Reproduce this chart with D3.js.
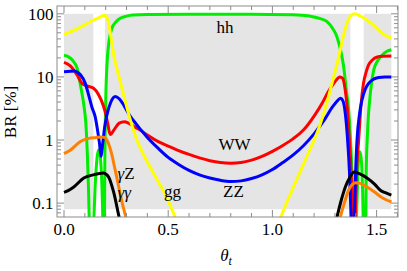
<!DOCTYPE html>
<html><head><meta charset="utf-8">
<script src="https://cdn.jsdelivr.net/npm/d3@7"></script>
<style>
body{margin:0;background:#fff}
svg text{font-family:"Liberation Serif","Times New Roman",serif;fill:#000}
</style>
</head><body>
<svg id="c" width="407" height="271"></svg>
<script>
// ---- data (theta_t, BR in %) ----
const ggData = [[0,47],[0.05,55],[0.1,67],[0.14,79],[0.17,88],[0.19,94],[0.2,93],[0.21,80],[0.22,55],[0.23,34],[0.24,21],[0.255,13],[0.27,8.4],[0.29,4.6],[0.31,2.6],[0.33,1.55],[0.35,1.0],[0.38,0.6],[0.41,0.39],[0.445,0.24],[0.476,0.16],[0.505,0.1],[0.533,0.06],[0.56,0.037],[0.6,0.02],[0.8,0.005],[1.0,0.03],[1.04,0.06],[1.08,0.125],[1.12,0.25],[1.16,0.5],[1.2,1.0],[1.23,1.8],[1.26,3.8],[1.294,10],[1.32,22],[1.342,47],[1.36,75],[1.38,95],[1.395,100],[1.42,93],[1.454,80],[1.49,64],[1.518,52],[1.545,45],[1.5708,41]];
const hhData = [[0,22],[0.02,21],[0.04,18.5],[0.063,13.7],[0.079,7.4],[0.095,3.6],[0.105,1.8],[0.112,0.6],[0.118,0.15],[0.124,0.02],[0.13,0.003],[0.14,0.03],[0.15,0.2],[0.158,0.5],[0.166,0.7],[0.174,0.55],[0.182,0.18],[0.188,0.03],[0.192,0.003],[0.196,0.5],[0.2,4],[0.206,15],[0.215,35],[0.23,59],[0.25,75],[0.27,85],[0.3,92],[0.33,96],[0.4,97.5],[0.6,98],[0.9,98],[1.1,97],[1.18,92],[1.23,84],[1.262,75],[1.29,58],[1.31,43],[1.33,24],[1.342,14.5],[1.355,6],[1.366,3],[1.375,1],[1.385,0.15],[1.392,0.01],[1.396,0.003],[1.403,0.05],[1.41,0.3],[1.418,0.65],[1.425,0.55],[1.433,0.15],[1.44,0.01],[1.445,0.002],[1.45,0.3],[1.456,1.2],[1.47,5.5],[1.486,12.8],[1.505,18],[1.526,22],[1.55,25.5],[1.5708,27]];
const wwData = [[0,17],[0.03,15],[0.063,10.7],[0.086,7.9],[0.11,7.2],[0.142,6.6],[0.166,5.2],[0.19,3.4],[0.2,2.6],[0.21,1.8],[0.222,1.22],[0.24,1.45],[0.265,1.85],[0.29,1.95],[0.31,1.85],[0.34,1.6],[0.365,1.44],[0.4,1.2],[0.45,0.95],[0.5,0.8],[0.55,0.68],[0.6,0.59],[0.65,0.52],[0.7,0.47],[0.75,0.44],[0.8,0.43],[0.85,0.44],[0.9,0.48],[0.95,0.55],[1.0,0.66],[1.05,0.82],[1.1,1.05],[1.15,1.45],[1.204,2.5],[1.24,3.9],[1.268,5.8],[1.3,8.4],[1.324,10],[1.337,9.5],[1.35,6],[1.36,3],[1.368,1.2],[1.378,0.3],[1.386,0.03],[1.391,0.002],[1.396,0.03],[1.404,0.3],[1.414,1.0],[1.425,3.5],[1.437,7.9],[1.45,12],[1.461,15.4],[1.48,18.5],[1.5,20.5],[1.53,21.2],[1.5708,21.4]];
const zzData = [[0,12.1],[0.03,12.3],[0.05,12.4],[0.065,11.8],[0.08,10.7],[0.102,7.9],[0.118,5.2],[0.134,3.3],[0.15,2.3],[0.16,1.5],[0.17,0.9],[0.178,0.55],[0.186,0.9],[0.195,1.6],[0.206,2.5],[0.225,4.0],[0.246,4.9],[0.265,4.5],[0.286,3.6],[0.31,2.6],[0.335,2.0],[0.365,1.5],[0.4,1.1],[0.45,0.75],[0.5,0.53],[0.55,0.41],[0.6,0.33],[0.65,0.28],[0.7,0.25],[0.75,0.23],[0.8,0.22],[0.85,0.225],[0.9,0.245],[0.95,0.28],[1.0,0.34],[1.05,0.44],[1.1,0.58],[1.15,0.82],[1.2,1.25],[1.25,2.1],[1.29,3.4],[1.315,4.3],[1.327,4.6],[1.338,4.2],[1.35,2.6],[1.36,1.1],[1.37,0.3],[1.378,0.05],[1.385,0.004],[1.392,0.05],[1.399,0.3],[1.406,1.0],[1.418,2.6],[1.43,4.3],[1.445,6.3],[1.462,7.9],[1.485,9.2],[1.51,9.8],[1.54,10],[1.5708,10]];
const gzData = [[0,0.61],[0.03,0.69],[0.077,0.94],[0.12,1.06],[0.15,1.09],[0.18,1.12],[0.195,1.1],[0.206,1.0],[0.218,0.8],[0.23,0.58],[0.242,0.38],[0.254,0.25],[0.266,0.16],[0.278,0.105],[0.294,0.065],[0.31,0.04],[0.33,0.02],[0.8,0.001],[1.28,0.015],[1.31,0.035],[1.326,0.06],[1.345,0.1],[1.366,0.16],[1.382,0.195],[1.398,0.21],[1.42,0.205],[1.454,0.18],[1.49,0.15],[1.518,0.127],[1.545,0.113],[1.5708,0.105]];
const ggamData = [[0,0.148],[0.02,0.158],[0.047,0.18],[0.095,0.25],[0.14,0.28],[0.19,0.3],[0.2,0.29],[0.214,0.26],[0.238,0.15],[0.262,0.065],[0.28,0.035],[0.3,0.015],[0.8,0.001],[1.26,0.01],[1.29,0.03],[1.31,0.06],[1.33,0.11],[1.35,0.18],[1.37,0.25],[1.393,0.31],[1.42,0.29],[1.454,0.25],[1.49,0.2],[1.518,0.16],[1.545,0.145],[1.5708,0.134]];

const xMajor = [0, 0.5, 1.0, 1.5];
const xMajorLabels = ["0.0","0.5","1.0","1.5"];
const yMajor = [0.1, 1, 10, 100];
const yMajorLabels = ["0.1","1","10","100"];
const bandRanges = [[0.141,0.197],[1.374,1.438]];
const shadeTheta = [0, Math.PI/2];
const shadeBR = [0.08, 100];

const series = [
  {name:"hh", data:hhData, color:"#00ee00"},
  {name:"WW", data:wwData, color:"#ff0000"},
  {name:"ZZ", data:zzData, color:"#0000ff"},
  {name:"gg", data:ggData, color:"#ffff00"},
  {name:"γγ", data:ggamData, color:"#000000"},
  {name:"γZ", data:gzData, color:"#ff8000"}
];

const FONT = "'Liberation Serif','Times New Roman',serif";
const svg = d3.select("#c");
const L=57, R=398, T=6, B=217;
const x = d3.scaleLinear().domain([-0.0336, 1.6027]).range([L, R]);
const y = d3.scaleLog().domain([0.0602, 133]).range([B, T]);

svg.append("defs").append("clipPath").attr("id","clip")
  .append("rect").attr("x",L).attr("y",T).attr("width",R-L).attr("height",B-T);

svg.append("rect").attr("x",x(shadeTheta[0])).attr("y",y(shadeBR[1]))
  .attr("width",x(shadeTheta[1])-x(shadeTheta[0])).attr("height",y(shadeBR[0])-y(shadeBR[1]))
  .attr("fill","#e5e5e5");
svg.selectAll("rect.band").data(bandRanges).join("rect").attr("class","band")
  .attr("x",d=>x(d[0])).attr("width",d=>x(d[1])-x(d[0]))
  .attr("y",y(shadeBR[1])).attr("height",y(shadeBR[0])-y(shadeBR[1]))
  .attr("fill","#fff");

const line = d3.line().x(d=>x(d[0])).y(d=>y(Math.max(d[1],1e-4))).curve(d3.curveMonotoneX);
const g = svg.append("g").attr("clip-path","url(#clip)");
g.selectAll("path").data(series).join("path")
  .attr("d",d=>line(d.data)).attr("fill","none").attr("stroke",d=>d.color)
  .attr("stroke-width",3).attr("stroke-linejoin","round");

const frameColor="#8c8c8c";
svg.append("rect").attr("x",L).attr("y",T).attr("width",R-L).attr("height",B-T)
  .attr("fill","none").attr("stroke",frameColor).attr("stroke-width",1);

const fg = svg.append("g").attr("stroke",frameColor).attr("stroke-width",1);
const xMinor = d3.range(0,17).map(i=>i/10).filter(v=>!xMajor.some(m=>Math.abs(m-v)<1e-9));
xMajor.forEach(v=>{
  fg.append("line").attr("x1",x(v)).attr("x2",x(v)).attr("y1",B).attr("y2",B-7);
  fg.append("line").attr("x1",x(v)).attr("x2",x(v)).attr("y1",T).attr("y2",T+7);
});
xMinor.forEach(v=>{
  fg.append("line").attr("x1",x(v)).attr("x2",x(v)).attr("y1",B).attr("y2",B-4);
  fg.append("line").attr("x1",x(v)).attr("x2",x(v)).attr("y1",T).attr("y2",T+4);
});
const yMinor=[];
[-2,-1,0,1,2].forEach(n=>{for(let k=2;k<=9;k++){const v=k*Math.pow(10,n); if(v>y.domain()[0]&&v<y.domain()[1]) yMinor.push(v);}});
yMajor.forEach(v=>{
  fg.append("line").attr("y1",y(v)).attr("y2",y(v)).attr("x1",L).attr("x2",L+7);
  fg.append("line").attr("y1",y(v)).attr("y2",y(v)).attr("x1",R).attr("x2",R-7);
});
yMinor.forEach(v=>{
  fg.append("line").attr("y1",y(v)).attr("y2",y(v)).attr("x1",L).attr("x2",L+4);
  fg.append("line").attr("y1",y(v)).attr("y2",y(v)).attr("x1",R).attr("x2",R-4);
});

svg.selectAll("text.xt").data(xMajor).join("text").attr("class","xt")
  .attr("font-family",FONT)
  .attr("x",d=>x(d)).attr("y",235).attr("text-anchor","middle").attr("font-size",17)
  .text((d,i)=>xMajorLabels[i]);
svg.selectAll("text.yt").data(yMajor).join("text").attr("class","yt")
  .attr("font-family",FONT)
  .attr("x",53.5).attr("y",d=>y(d)).attr("dy","0.34em").attr("text-anchor","end").attr("font-size",17)
  .text((d,i)=>yMajorLabels[i]);

svg.append("text").attr("font-family",FONT).attr("transform","translate(16,112) rotate(-90)")
  .attr("text-anchor","middle").attr("font-size",17).text("BR [%]");
const xl = svg.append("text").attr("font-family",FONT).attr("x",226).attr("y",261).attr("text-anchor","middle").attr("font-size",17);
xl.append("tspan").attr("font-style","italic").text("θ");
xl.append("tspan").attr("font-style","italic").attr("font-size",12).attr("dy",4).text("t");

const ann = [
  {t:"hh", x:225, y:33},
  {t:"WW", x:234.5, y:150},
  {t:"ZZ", x:233.5, y:197},
  {t:"gg", x:172.5, y:197}
];
ann.forEach(d=>svg.append("text").attr("font-family",FONT).attr("x",d.x).attr("y",d.y).attr("text-anchor","middle").attr("font-size",17).text(d.t));
const gz = svg.append("text").attr("font-family",FONT).attr("x",117.5).attr("y",179).attr("font-size",17);
gz.append("tspan").attr("font-style","italic").text("γ"); gz.append("tspan").text("Z");
svg.append("text").attr("font-family",FONT).attr("x",117.5).attr("y",198).attr("font-size",17).attr("font-style","italic").text("γγ");
</script>
</body></html>
